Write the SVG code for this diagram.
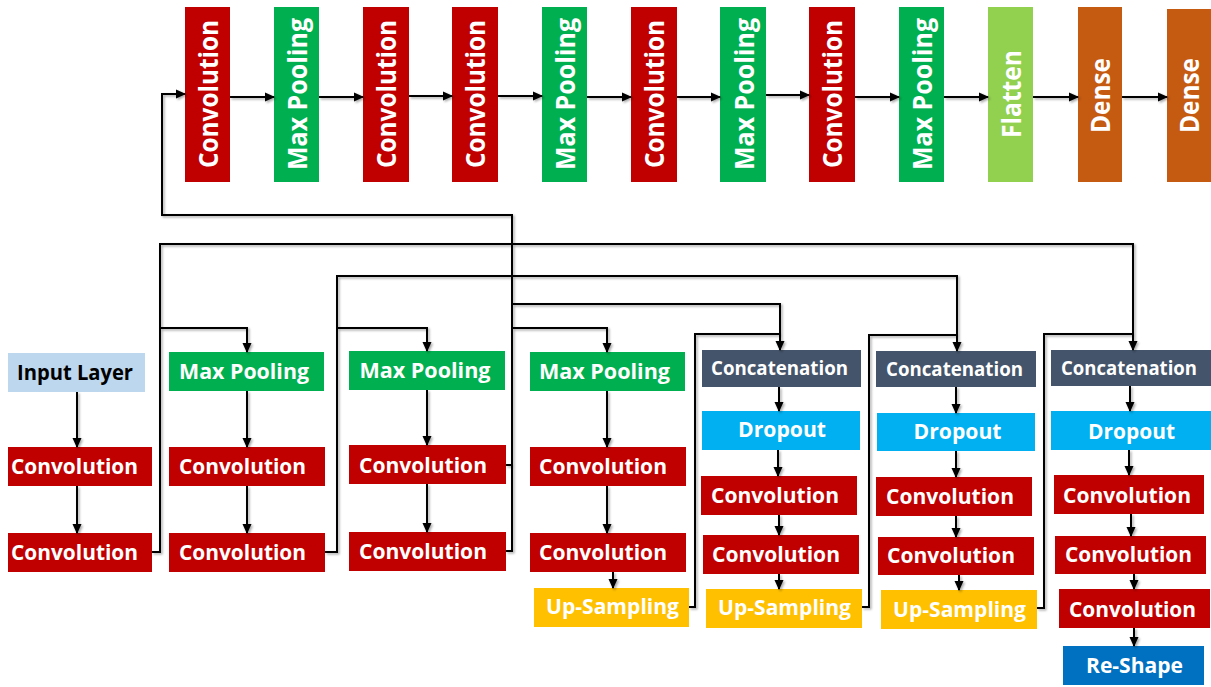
<svg xmlns="http://www.w3.org/2000/svg" width="1211" height="687" viewBox="0 0 1211 687">
<style>
.red{fill:#C00000}.grn{fill:#00B050}.lgr{fill:#92D050}.org{fill:#C55A11}.sl{fill:#44546A}.lb{fill:#BDD7EE}.cy{fill:#00B0F0}.yl{fill:#FFC000}.bl{fill:#0070C0}
text{font-family:"Open Sans",Lato,"Liberation Sans",sans-serif;font-weight:bold;fill:#fff;text-anchor:middle}
.v{font-size:27px}.h{font-size:20.5px}.c{font-size:19px}.k{fill:#000}
#conn path{fill:none;stroke:#000;stroke-width:2}
</style>
<defs>
<marker id="ah" markerUnits="userSpaceOnUse" markerWidth="10" markerHeight="10" refX="9" refY="5" orient="auto"><path d="M0,0.5 L10,5 L0,9.5 z" fill="#000"/></marker>
<filter id="sh" x="-5%" y="-5%" width="110%" height="110%"><feDropShadow dx="1.5" dy="1.5" stdDeviation="1" flood-color="#000" flood-opacity="0.35"/></filter>
</defs>
<rect width="1211" height="687" fill="#fff"/>
<!-- top row -->
<g id="t1"><rect class="red" x="185" y="7" width="45" height="175"/><text class="v" transform="translate(218,94) rotate(-90)" textLength="148" lengthAdjust="spacingAndGlyphs">Convolution</text></g>
<g id="t2"><rect class="grn" x="274" y="7" width="45" height="175"/><text class="v" transform="translate(307,94) rotate(-90)" textLength="152" lengthAdjust="spacingAndGlyphs">Max Pooling</text></g>
<g id="t3"><rect class="red" x="363" y="7" width="46" height="175"/><text class="v" transform="translate(396,94) rotate(-90)" textLength="148" lengthAdjust="spacingAndGlyphs">Convolution</text></g>
<g id="t4"><rect class="red" x="452" y="7" width="46" height="175"/><text class="v" transform="translate(485,94) rotate(-90)" textLength="148" lengthAdjust="spacingAndGlyphs">Convolution</text></g>
<g id="t5"><rect class="grn" x="542" y="7" width="45" height="175"/><text class="v" transform="translate(575,94) rotate(-90)" textLength="152" lengthAdjust="spacingAndGlyphs">Max Pooling</text></g>
<g id="t6"><rect class="red" x="631" y="7" width="46" height="175"/><text class="v" transform="translate(664,94) rotate(-90)" textLength="148" lengthAdjust="spacingAndGlyphs">Convolution</text></g>
<g id="t7"><rect class="grn" x="720" y="7" width="46" height="175"/><text class="v" transform="translate(754,94) rotate(-90)" textLength="152" lengthAdjust="spacingAndGlyphs">Max Pooling</text></g>
<g id="t8"><rect class="red" x="809" y="7" width="46" height="175"/><text class="v" transform="translate(842,94) rotate(-90)" textLength="148" lengthAdjust="spacingAndGlyphs">Convolution</text></g>
<g id="t9"><rect class="grn" x="899" y="7" width="45" height="175"/><text class="v" transform="translate(932,94) rotate(-90)" textLength="152" lengthAdjust="spacingAndGlyphs">Max Pooling</text></g>
<g id="t10"><rect class="lgr" x="988" y="7" width="45" height="175"/><text class="v" transform="translate(1021,94) rotate(-90)" textLength="88" lengthAdjust="spacingAndGlyphs">Flatten</text></g>
<g id="t11"><rect class="org" x="1078" y="7" width="44" height="175"/><text class="v" transform="translate(1110,95.5) rotate(-90)" textLength="75" lengthAdjust="spacingAndGlyphs">Dense</text></g>
<g id="t12"><rect class="org" x="1167" y="9" width="44" height="173"/><text class="v" transform="translate(1199,95.5) rotate(-90)" textLength="75" lengthAdjust="spacingAndGlyphs">Dense</text></g>
<!-- column 1 -->
<g id="in"><rect class="lb" x="8" y="353" width="137" height="39"/><text class="h k" x="75" y="380" textLength="116" lengthAdjust="spacingAndGlyphs">Input Layer</text></g>
<g id="c1a"><rect class="red" x="8" y="447" width="144" height="39"/><text class="h" x="74.5" y="474" textLength="127" lengthAdjust="spacingAndGlyphs">Convolution</text></g>
<g id="c1b"><rect class="red" x="8" y="533" width="144" height="39"/><text class="h" x="74.5" y="560" textLength="127" lengthAdjust="spacingAndGlyphs">Convolution</text></g>
<!-- column 2 -->
<g id="mp2"><rect class="grn" x="169" y="352" width="155" height="39"/><text class="h" x="244" y="379" textLength="130" lengthAdjust="spacingAndGlyphs">Max Pooling</text></g>
<g id="c2a"><rect class="red" x="169" y="447" width="156" height="39"/><text class="h" x="242.5" y="474" textLength="127" lengthAdjust="spacingAndGlyphs">Convolution</text></g>
<g id="c2b"><rect class="red" x="169" y="533" width="156" height="39"/><text class="h" x="242.5" y="560" textLength="127" lengthAdjust="spacingAndGlyphs">Convolution</text></g>
<!-- column 3 -->
<g id="mp3"><rect class="grn" x="349" y="351" width="156" height="39"/><text class="h" x="425" y="378" textLength="131" lengthAdjust="spacingAndGlyphs">Max Pooling</text></g>
<g id="c3a"><rect class="red" x="349" y="445" width="157" height="39"/><text class="h" x="423" y="473" textLength="128" lengthAdjust="spacingAndGlyphs">Convolution</text></g>
<g id="c3b"><rect class="red" x="349" y="532" width="157" height="39"/><text class="h" x="423" y="559" textLength="128" lengthAdjust="spacingAndGlyphs">Convolution</text></g>
<!-- column 4 -->
<g id="mp4"><rect class="grn" x="530" y="352" width="155" height="39"/><text class="h" x="604.5" y="379" textLength="131" lengthAdjust="spacingAndGlyphs">Max Pooling</text></g>
<g id="c4a"><rect class="red" x="530" y="447" width="156" height="39"/><text class="h" x="603" y="474" textLength="128" lengthAdjust="spacingAndGlyphs">Convolution</text></g>
<g id="c4b"><rect class="red" x="530" y="533" width="156" height="39"/><text class="h" x="603" y="560" textLength="128" lengthAdjust="spacingAndGlyphs">Convolution</text></g>
<g id="up4"><rect class="yl" x="534" y="588" width="155" height="39"/><text class="h" x="612.5" y="614" textLength="133" lengthAdjust="spacingAndGlyphs">Up-Sampling</text></g>
<!-- column 5 -->
<g id="cc5"><rect class="sl" x="702" y="350" width="159" height="37"/><text class="c" x="779.5" y="375" textLength="137" lengthAdjust="spacingAndGlyphs">Concatenation</text></g>
<g id="dr5"><rect class="cy" x="702" y="411" width="158" height="39"/><text class="h" x="782" y="437" textLength="88" lengthAdjust="spacingAndGlyphs">Dropout</text></g>
<g id="c5a"><rect class="red" x="701" y="476" width="156" height="39"/><text class="h" x="775" y="503" textLength="128" lengthAdjust="spacingAndGlyphs">Convolution</text></g>
<g id="c5b"><rect class="red" x="703" y="535" width="156" height="39"/><text class="h" x="776" y="562" textLength="128" lengthAdjust="spacingAndGlyphs">Convolution</text></g>
<g id="up5"><rect class="yl" x="706" y="589" width="156" height="39"/><text class="h" x="784.5" y="615" textLength="133" lengthAdjust="spacingAndGlyphs">Up-Sampling</text></g>
<!-- column 6 -->
<g id="cc6"><rect class="sl" x="876" y="351" width="160" height="36"/><text class="c" x="954.5" y="376" textLength="137" lengthAdjust="spacingAndGlyphs">Concatenation</text></g>
<g id="dr6"><rect class="cy" x="877" y="413" width="158" height="38"/><text class="h" x="957.5" y="439" textLength="88" lengthAdjust="spacingAndGlyphs">Dropout</text></g>
<g id="c6a"><rect class="red" x="876" y="477" width="156" height="39"/><text class="h" x="950" y="504" textLength="128" lengthAdjust="spacingAndGlyphs">Convolution</text></g>
<g id="c6b"><rect class="red" x="878" y="537" width="156" height="38"/><text class="h" x="951" y="563" textLength="128" lengthAdjust="spacingAndGlyphs">Convolution</text></g>
<g id="up6"><rect class="yl" x="881" y="590" width="156" height="39"/><text class="h" x="959.5" y="617" textLength="133" lengthAdjust="spacingAndGlyphs">Up-Sampling</text></g>
<!-- column 7 -->
<g id="cc7"><rect class="sl" x="1051" y="350" width="160" height="36"/><text class="c" x="1129" y="375" textLength="136" lengthAdjust="spacingAndGlyphs">Concatenation</text></g>
<g id="dr7"><rect class="cy" x="1051" y="411" width="160" height="39"/><text class="h" x="1131.5" y="439" textLength="87" lengthAdjust="spacingAndGlyphs">Dropout</text></g>
<g id="c7a"><rect class="red" x="1054" y="475" width="150" height="39"/><text class="h" x="1127" y="503" textLength="128" lengthAdjust="spacingAndGlyphs">Convolution</text></g>
<g id="c7b"><rect class="red" x="1055" y="536" width="151" height="38"/><text class="h" x="1128.5" y="562" textLength="127" lengthAdjust="spacingAndGlyphs">Convolution</text></g>
<g id="c7c"><rect class="red" x="1059" y="589" width="151" height="39"/><text class="h" x="1132.5" y="617" textLength="127" lengthAdjust="spacingAndGlyphs">Convolution</text></g>
<g id="rs7"><rect class="bl" x="1063" y="646" width="141" height="39"/><text class="h" x="1134.5" y="673" textLength="97" lengthAdjust="spacingAndGlyphs">Re-Shape</text></g>
<!-- connectors -->
<g id="conn" filter="url(#sh)">
<path d="M230,97 H274" marker-end="url(#ah)"/>
<path d="M319,97 H363" marker-end="url(#ah)"/>
<path d="M409,96 H452" marker-end="url(#ah)"/>
<path d="M498,96 H542" marker-end="url(#ah)"/>
<path d="M587,97 H631" marker-end="url(#ah)"/>
<path d="M677,97 H720" marker-end="url(#ah)"/>
<path d="M766,95 H809" marker-end="url(#ah)"/>
<path d="M855,97 H899" marker-end="url(#ah)"/>
<path d="M944,97 H988" marker-end="url(#ah)"/>
<path d="M1033,97 H1078" marker-end="url(#ah)"/>
<path d="M1122,97 H1167" marker-end="url(#ah)"/>
<path d="M506,465 H512 V215 H162 V94 H185" marker-end="url(#ah)"/>
<path d="M152,552 H160 V244 H1133 V350" marker-end="url(#ah)"/>
<path d="M160,328 H247 V352" marker-end="url(#ah)"/>
<path d="M325,552 H337 V276 H957 V351" marker-end="url(#ah)"/>
<path d="M337,328 H427 V351" marker-end="url(#ah)"/>
<path d="M506,551 H512 V304 H780 V350" marker-end="url(#ah)"/>
<path d="M512,328 H607 V352" marker-end="url(#ah)"/>
<path d="M689,607 H695 V334 H780"/>
<path d="M862,607 H869 V335 H957"/>
<path d="M1037,608 H1044 V334 H1133"/>
<path d="M77,392 V447" marker-end="url(#ah)"/>
<path d="M77,486 V533" marker-end="url(#ah)"/>
<path d="M247,391 V447" marker-end="url(#ah)"/>
<path d="M247,486 V533" marker-end="url(#ah)"/>
<path d="M427,390 V445" marker-end="url(#ah)"/>
<path d="M427,484 V532" marker-end="url(#ah)"/>
<path d="M607,391 V447" marker-end="url(#ah)"/>
<path d="M607,486 V533" marker-end="url(#ah)"/>
<path d="M613,572 V588" marker-end="url(#ah)"/>
<path d="M779,387 V411" marker-end="url(#ah)"/>
<path d="M778,450 V476" marker-end="url(#ah)"/>
<path d="M779,515 V535" marker-end="url(#ah)"/>
<path d="M779,574 V589" marker-end="url(#ah)"/>
<path d="M956,387 V413" marker-end="url(#ah)"/>
<path d="M956,451 V477" marker-end="url(#ah)"/>
<path d="M956,516 V537" marker-end="url(#ah)"/>
<path d="M959,575 V590" marker-end="url(#ah)"/>
<path d="M1130,386 V411" marker-end="url(#ah)"/>
<path d="M1129,450 V475" marker-end="url(#ah)"/>
<path d="M1131,514 V536" marker-end="url(#ah)"/>
<path d="M1134,574 V589" marker-end="url(#ah)"/>
<path d="M1134,628 V646" marker-end="url(#ah)"/>
</g>
</svg>
